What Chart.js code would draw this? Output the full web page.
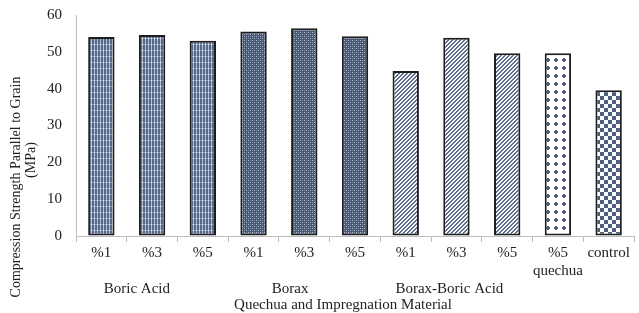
<!DOCTYPE html>
<html>
<head>
<meta charset="utf-8">
<script src="https://cdn.jsdelivr.net/npm/chart.js@4/dist/chart.umd.min.js"></script>
<style>
  body { margin: 0; background: #fff; }
</style>
</head>
<body>
<canvas id="grafico" width="639" height="313"></canvas>
<script>
const categorias = [['%1'], ['%3'], ['%5'], ['%1'], ['%3'], ['%5'], ['%1'], ['%3'], ['%5'], ['%5', 'quechua'], ['control']];
const resistencia = [54.0, 54.6, 53.0, 55.5, 56.4, 54.2, 44.8, 53.8, 49.6, 49.6, 39.6];
const grupos = ['Boric Acid', 'Borax', 'Borax-Boric Acid'];
const grupoPosicao = [0.7, 3.72, 6.86];
const tiposPadrao = ['xadrez', 'xadrez', 'xadrez', 'pontos', 'pontos', 'pontos', 'listras', 'listras', 'listras', 'cruz', 'quadrados'];
const tituloX = 'Quechua and Impregnation Material';
const tituloY = ['Compression Strength Parallel to Grain', '(MPa)'];

const azul = '#4e5f7e';
const fonte = '"Liberation Serif", "Times New Roman", serif';

function criarPadrao(tipo) {
  const c = document.createElement('canvas');
  const g = c.getContext('2d');
  if (tipo === 'xadrez') {
    c.width = 6; c.height = 6;
    g.fillStyle = '#56688a'; g.fillRect(0, 0, 6, 6);
    g.fillStyle = '#b4c0d4';
    g.fillRect(1, 0, 1, 6); g.fillRect(4, 0, 1, 6);
    g.fillStyle = '#8797b2';
    g.fillRect(0, 2, 6, 1);
    g.fillStyle = '#e2e8f2';
    g.fillRect(1, 2, 1, 1); g.fillRect(4, 2, 1, 1);
  } else if (tipo === 'pontos') {
    c.width = 4; c.height = 4;
    g.fillStyle = '#465673'; g.fillRect(0, 0, 4, 4);
    g.fillStyle = '#b8c3d5';
    g.fillRect(0, 0, 1, 1); g.fillRect(2, 2, 1, 1);
    g.fillStyle = '#7a89a3';
    g.fillRect(2, 0, 1, 1); g.fillRect(0, 2, 1, 1);
  } else if (tipo === 'listras') {
    c.width = 4; c.height = 4;
    g.fillStyle = '#f4f6fa'; g.fillRect(0, 0, 4, 4);
    g.fillStyle = '#5d6d8a';
    for (let i = 0; i < 4; i++) {
      g.fillRect((3 - i + 4) % 4, i, 1, 1);
      g.fillRect((4 - i + 4) % 4, i, 1, 1);
    }
  } else if (tipo === 'cruz') {
    c.width = 8; c.height = 8;
    g.fillStyle = '#ffffff'; g.fillRect(0, 0, 8, 8);
    g.fillStyle = azul;
    g.fillRect(3, 2, 2, 4); g.fillRect(2, 3, 4, 2);
  } else {
    c.width = 8; c.height = 8;
    g.fillStyle = '#ffffff'; g.fillRect(0, 0, 8, 8);
    g.fillStyle = azul;
    g.fillRect(0, 0, 4, 4); g.fillRect(4, 4, 4, 4);
  }
  return g.createPattern(c, 'repeat');
}

const textosExtras = {
  id: 'textosExtras',
  afterDraw(chart) {
    const ctx = chart.ctx;
    const x = chart.scales.x;
    const area = chart.chartArea;
    ctx.save();
    ctx.fillStyle = '#222';
    ctx.font = '15px ' + fonte;
    ctx.textAlign = 'center';
    ctx.textBaseline = 'middle';
    grupos.forEach((nome, i) => {
      ctx.fillText(nome, x.getPixelForValue(grupoPosicao[i]), 289);
    });
    ctx.fillText(tituloX, (area.left + area.right) / 2 - 12, 305);
    ctx.font = '14px ' + fonte;
    ctx.translate(16, 187);
    ctx.rotate(-Math.PI / 2);
    ctx.fillText(tituloY[0], 0, 0);
    ctx.fillText(tituloY[1], 27, 15);
    ctx.restore();
  }
};

const ctx = document.getElementById('grafico').getContext('2d');
new Chart(ctx, {
  type: 'bar',
  data: {
    labels: categorias,
    datasets: [{
      data: resistencia,
      backgroundColor: tiposPadrao.map(criarPadrao),
      borderColor: '#1e1e1e',
      borderWidth: 2,
      borderSkipped: false,
      barPercentage: 0.52,
      categoryPercentage: 1
    }]
  },
  options: {
    responsive: false,
    animation: false,
    layout: { padding: { top: 15, right: 5, left: 0, bottom: 0 } },
    plugins: { legend: { display: false }, tooltip: { enabled: false } },
    scales: {
      x: {
        afterFit(s) { s.height = 77; },
        grid: { drawOnChartArea: false, drawTicks: true, tickLength: 6, color: '#bdbdbd' },
        border: { color: '#bdbdbd', width: 1 },
        ticks: { color: '#222', font: { family: fonte, size: 15, lineHeight: 1.2 }, padding: 2, maxRotation: 0, autoSkip: false }
      },
      y: {
        min: 0,
        max: 60,
        afterFit(s) { s.width = 76; },
        grid: { drawOnChartArea: false, drawTicks: true, tickLength: 12, color: 'rgba(0,0,0,0)' },
        border: { color: '#bdbdbd', width: 1 },
        ticks: { stepSize: 10, color: '#222', font: { family: fonte, size: 15 }, padding: 2 }
      }
    }
  },
  plugins: [textosExtras]
});
</script>
</body>
</html>
